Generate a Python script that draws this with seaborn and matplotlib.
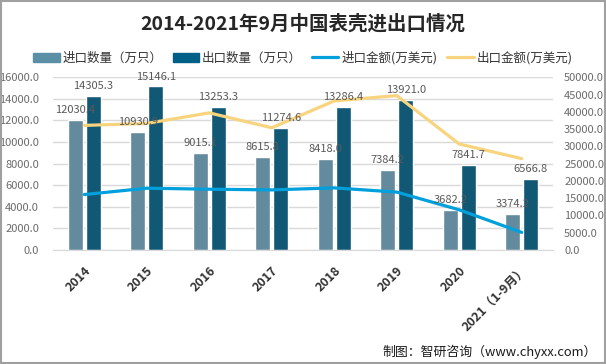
import numpy as np
import pandas as pd
import seaborn as sns
import matplotlib
matplotlib.use('Agg')
import matplotlib.pyplot as plt
from matplotlib.patches import Patch, Rectangle
from matplotlib.lines import Line2D
from matplotlib.ticker import FormatStrFormatter

# data
years = ['2014', '2015', '2016', '2017', '2018', '2019', '2020', '2021（1-9月）']
import_qty = [12030.4, 10930.9, 9015.1, 8615.8, 8418.0, 7384.2, 3682.2, 3374.2]
export_qty = [14305.3, 15146.1, 13253.3, 11274.6, 13286.4, 13921.0, 7841.7, 6566.8]
import_amt = [16050, 17890, 17600, 17400, 17980, 16760, 11630, 5090]
export_amt = [36070, 36640, 39700, 35380, 43170, 44700, 30680, 26450]

series_qty = ['进口数量（万只）', '出口数量（万只）']
series_amt = ['进口金额(万美元)', '出口金额(万美元)']
bar_colors = ['#5B8FA6', '#005F86']
line_colors = ['#00A0DC', '#F8D47E']

sns.set_style('white')
plt.rcParams['font.family'] = ['Noto Sans CJK SC', 'DejaVu Sans']

qty = pd.DataFrame({
    'year': years * 2,
    'value': import_qty + export_qty,
    'series': [series_qty[0]] * len(years) + [series_qty[1]] * len(years),
})

fig = plt.figure(figsize=(6.06, 3.64), dpi=100)
ax = fig.add_axes([0.0875, 0.3132, 0.825, 0.4745])

sns.barplot(data=qty, x='year', y='value', hue='series', order=years,
            hue_order=series_qty, palette=bar_colors, width=0.576, gap=0.19,
            legend=False, ax=ax)

ax.set_ylim(0, 16000)
ax.set_yticks(np.arange(0, 16001, 2000))
ax.yaxis.set_major_formatter(FormatStrFormatter('%.1f'))
ax.set_xlim(-0.5, len(years) - 0.5)
ax.set_xlabel('')
ax.set_ylabel('')
ax.grid(axis='y', color='#D9D9D9', linewidth=1)
ax.set_axisbelow(True)
for s in ['top', 'left', 'right']:
    ax.spines[s].set_visible(False)
ax.spines['bottom'].set_color('#D9D9D9')
ax.tick_params(axis='y', length=0, labelsize=8, labelcolor='#6b6b6b', pad=10)
ax.tick_params(axis='x', length=0, pad=10)
for lab in ax.get_xticklabels():
    lab.set_rotation(45)
    lab.set_ha('right')
    lab.set_rotation_mode('anchor')
    lab.set_fontweight('bold')
    lab.set_fontsize(9)
    lab.set_color('#333333')

ax2 = ax.twinx()
xpos = np.arange(len(years))
sns.lineplot(x=xpos, y=import_amt, color=line_colors[0], linewidth=2.3, ax=ax2)
sns.lineplot(x=xpos, y=export_amt, color=line_colors[1], linewidth=2.3, ax=ax2)
ax2.set_ylim(0, 50000)
ax2.set_yticks(np.arange(0, 50001, 5000))
ax2.yaxis.set_major_formatter(FormatStrFormatter('%.1f'))
ax2.set_xlim(-0.5, len(years) - 0.5)
for s in ['top', 'left', 'right', 'bottom']:
    ax2.spines[s].set_visible(False)
ax2.tick_params(axis='y', length=0, labelsize=8, labelcolor='#6b6b6b', pad=8)

# bar value labels drawn on the top axes so they sit above the lines
for cont in ax.containers:
    for bar in cont.patches:
        ax2.annotate(f'{bar.get_height():.1f}',
                     xy=(bar.get_x() + bar.get_width() / 2, bar.get_height()),
                     xycoords=ax.transData, xytext=(0, 3.5), textcoords='offset points',
                     ha='center', va='bottom', fontsize=8, color='#595959', zorder=5)

handles = [Patch(color=bar_colors[0]), Patch(color=bar_colors[1]),
           Line2D([], [], color=line_colors[0], linewidth=2.3),
           Line2D([], [], color=line_colors[1], linewidth=2.3)]
fig.legend(handles, series_qty + series_amt, loc='center', bbox_to_anchor=(0.5, 1 - 58 / 364),
           ncol=4, frameon=False, fontsize=9, handlelength=2.1, handletextpad=0.25,
           columnspacing=0.8, labelcolor='#333333')

fig.text(0.5, 1 - 24 / 364, '2014-2021年9月中国表壳进出口情况', ha='center', va='center',
         fontsize=14, fontweight='bold', color='#262626')
fig.text(0.985, 1 - 352 / 364, '制图：智研咨询（www.chyxx.com）', ha='right', va='center',
         fontsize=9.3, color='#1a1a1a')

fig.patches.append(Rectangle((0.001, 0.002), 0.997, 0.996, transform=fig.transFigure,
                             fill=False, edgecolor='#A0A0A0', linewidth=1.5))

fig.savefig('out.png', dpi=100)
